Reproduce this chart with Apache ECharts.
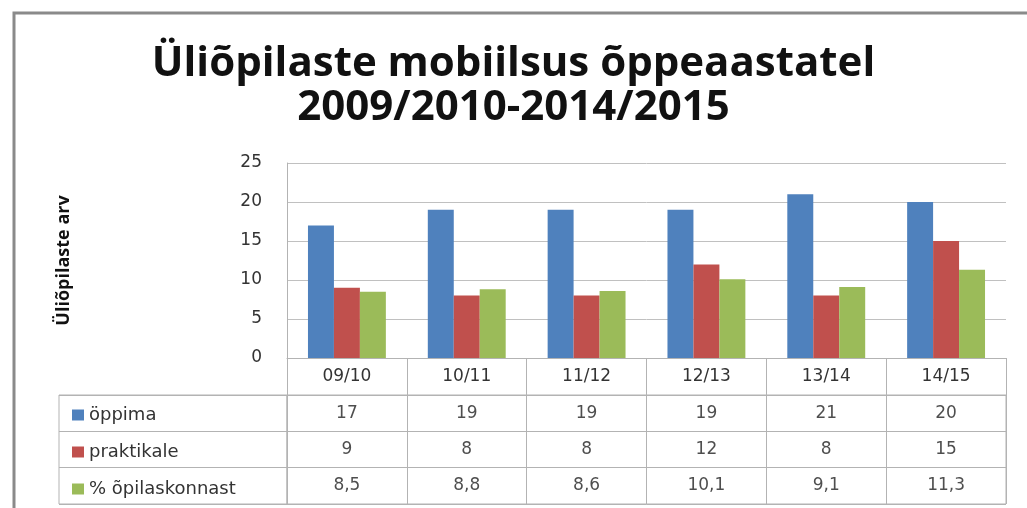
<!DOCTYPE html>
<html>
<head>
<meta charset="utf-8">
<title>Üliõpilaste mobiilsus</title>
<script src="https://cdn.jsdelivr.net/npm/echarts@6/dist/echarts.min.js"></script>
<style>
    html, body { margin: 0; padding: 0; background: #fff; }
    #chart { width: 1027px; height: 508px; }
</style>
</head>
<body>
<div id="chart"></div>
<script>
// õppeaastad
const categories = ['09/10', '10/11', '11/12', '12/13', '13/14', '14/15'];
// üliõpilaste arv õppima
const oppima = [17, 19, 19, 19, 21, 20];
// üliõpilaste arv praktikale
const praktikale = [9, 8, 8, 12, 8, 15];
// % õpilaskonnast
const protsent = [8.5, 8.8, 8.6, 10.1, 9.1, 11.3];
// tabeli ridade nimed
const rowNames = ['öppima', 'praktikale', '% õpilaskonnast'];
// y-telje jaotised
const yTicks = [0, 5, 10, 15, 20, 25];

const colors = ['#4F81BD', '#C0504D', '#9BBB59'];
const lineColor = '#b3b3b3';
const font = 'DejaVu Sans';

const seriesValues = [oppima, praktikale, protsent];

// tabeli lahtrid: [veerg, rida, väärtus]
const tableCells = [];
seriesValues.forEach((values, row) => {
    values.forEach((v, col) => {
        tableCells.push([col, row, String(v).replace('.', ',')]);
    });
});

const chart = echarts.init(document.getElementById('chart'));

chart.setOption({
    animation: false,
    color: colors,
    textStyle: { fontFamily: font },
    title: {
        text: 'Üliõpilaste mobiilsus õppeaastatel\n2009/2010-2014/2015',
        left: 'center',
        top: 37,
        textStyle: {
            fontFamily: 'Open Sans',
            fontSize: 42,
            fontWeight: 'bold',
            color: '#111',
            lineHeight: 44
        }
    },
    graphic: [{
        type: 'rect',
        shape: { x: 14, y: 13, width: 1040, height: 520 },
        style: { fill: 'none', stroke: '#8a8a8a', lineWidth: 3 },
        silent: true
    }],
    legend: {
        data: ['öppima', 'praktikale', '% õpilaskonnast'],
        orient: 'vertical',
        left: 67,
        top: 400,
        icon: 'rect',
        itemWidth: 12,
        itemHeight: 11,
        itemGap: 17,
        itemStyle: { borderWidth: 0 },
        selectedMode: false,
        textStyle: { fontFamily: font, fontSize: 18, color: '#333', lineHeight: 20 }
    },
    grid: [
        // põhijoonis
        { left: 287, top: 163, width: 719, height: 195 },
        // tabeli väärtused
        { left: 287, top: 395, width: 719, height: 109, show: true, borderColor: lineColor, borderWidth: 1 },
        // tabeli päisveerg
        { left: 59, top: 395, width: 228, height: 109, show: true, borderColor: lineColor, borderWidth: 1 }
    ],
    xAxis: [{
        type: 'category',
        gridIndex: 0,
        data: categories,
        axisLine: { show: true, lineStyle: { color: lineColor } },
        axisTick: { show: true, interval: 0, length: 37, lineStyle: { color: lineColor } },
        axisLabel: { fontSize: 17, color: '#333', margin: 10 }
    }, {
        type: 'category',
        gridIndex: 1,
        data: categories,
        axisLine: { show: false },
        axisTick: { show: false },
        axisLabel: { show: false },
        splitLine: { show: true, interval: 0, lineStyle: { color: lineColor } }
    }, {
        type: 'value',
        gridIndex: 2,
        show: false
    }],
    yAxis: [{
        type: 'value',
        gridIndex: 0,
        min: 0,
        max: 25,
        interval: 5,
        name: 'Üliõpilaste arv',
        nameLocation: 'middle',
        nameRotate: 90,
        nameGap: 214,
        nameTextStyle: { fontFamily: 'Open Sans', fontSize: 18, fontWeight: 'bold', color: '#111' },
        axisLine: { show: true, lineStyle: { color: lineColor } },
        axisTick: { show: false },
        axisLabel: {
            fontSize: 17,
            color: '#333',
            margin: 25,
            formatter: v => (yTicks.indexOf(v) >= 0 ? String(v) : '')
        },
        splitLine: { show: true, lineStyle: { color: '#c0c0c0' } }
    }, {
        type: 'category',
        gridIndex: 1,
        data: rowNames,
        inverse: true,
        axisLine: { show: false },
        axisTick: { show: false },
        axisLabel: { show: false },
        splitLine: { show: true, interval: 0, lineStyle: { color: lineColor } }
    }, {
        type: 'category',
        gridIndex: 2,
        data: rowNames,
        inverse: true,
        axisLine: { show: false },
        axisTick: { show: false },
        axisLabel: { show: false },
        splitLine: { show: true, interval: 0, lineStyle: { color: lineColor } }
    }],
    series: [
        ...rowNames.map((name, i) => ({
            name: name,
            type: 'bar',
            xAxisIndex: 0,
            yAxisIndex: 0,
            barGap: '0%',
            barCategoryGap: '35%',
            data: seriesValues[i]
        })),
        {
            name: 'tabel',
            type: 'scatter',
            xAxisIndex: 1,
            yAxisIndex: 1,
            symbolSize: 1,
            itemStyle: { color: 'transparent' },
            silent: true,
            label: {
                show: true,
                position: 'inside',
                fontSize: 17,
                color: '#222',
                formatter: p => p.value[2]
            },
            data: tableCells
        }
    ]
});
</script>
</body>
</html>
